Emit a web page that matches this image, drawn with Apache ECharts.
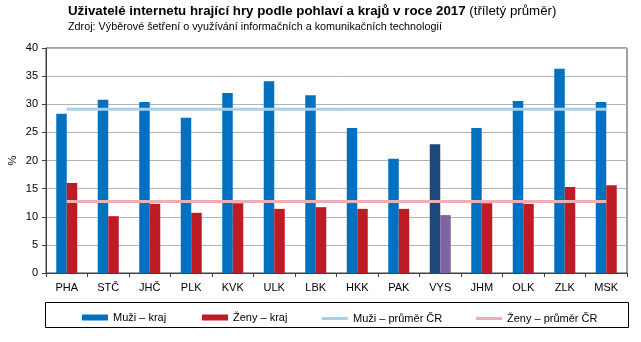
<!DOCTYPE html>
<html>
<head>
<meta charset="utf-8">
<script src="https://cdn.jsdelivr.net/npm/echarts@6/dist/echarts.min.js"></script>
<style>html,body{margin:0;padding:0;background:#fff}#c{width:641px;height:342px}</style>
</head>
<body>
<div id="c"></div>
<script>
const categories = ['PHA','STČ','JHČ','PLK','KVK','ULK','LBK','HKK','PAK','VYS','JHM','OLK','ZLK','MSK'];
const menValues = [28.3, 30.8, 30.4, 27.6, 32.0, 34.1, 31.6, 25.8, 20.3, 22.9, 25.8, 30.6, 36.3, 30.4];
const womenValues = [16.0, 10.1, 12.3, 10.7, 12.4, 11.4, 11.7, 11.4, 11.4, 10.3, 12.4, 12.3, 15.3, 15.6];
const menAverage = 29.1;
const womenAverage = 12.7;
const highlightCategory = 'VYS';
const yTicks = [0, 5, 10, 15, 20, 25, 30, 35, 40];

const FONT = '"Liberation Sans", Arial, sans-serif';
const C_MEN = '#0070c0', C_WOMEN = '#be1b24';
const C_MEN_HI = '#1f497d', C_WOMEN_HI = '#8064a2';
const C_MEN_AVG = '#a9cfea', C_WOMEN_AVG = '#ebb0b5';

const chart = echarts.init(document.getElementById('c'), null, {renderer: 'canvas'});

const menData = menValues.map((v, i) => categories[i] === highlightCategory ? {value: v, itemStyle: {color: C_MEN_HI}} : v);
const womenData = womenValues.map((v, i) => categories[i] === highlightCategory ? {value: v, itemStyle: {color: C_WOMEN_HI}} : v);

const legendBase = {top: 312, itemWidth: 26, itemHeight: 6, textStyle: {fontFamily: FONT, fontSize: 11, color: '#000'}, itemGap: 0, selectedMode: false, padding: 0};

chart.setOption({
  animation: false,
  textStyle: {fontFamily: FONT},
  title: {
    left: 68, top: 5, padding: 0,
    text: '{b|Uživatelé internetu hrající hry podle pohlaví a krajů v roce 2017}{n| (tříletý průměr)}',
    textStyle: {rich: {
      b: {fontFamily: FONT, fontSize: 13.3, fontWeight: 'bold', color: '#000'},
      n: {fontFamily: FONT, fontSize: 13.3, fontWeight: 'normal', color: '#000'}
    }},
    subtext: 'Zdroj: Výběrové šetření o využívání informačních a komunikačních technologií',
    subtextStyle: {fontFamily: FONT, fontSize: 10.8, color: '#000'},
    itemGap: 4
  },
  grid: {left: 46, right: 14, top: 48, bottom: 69, show: true, borderColor: '#404040', borderWidth: 1, outerBoundsMode: 'none', containLabel: false},
  legend: [
    Object.assign({}, legendBase, {left: 82, data: [{name: 'Muži – kraj', icon: 'rect'}]}),
    Object.assign({}, legendBase, {left: 202, data: [{name: 'Ženy – kraj', icon: 'rect'}]}),
    Object.assign({}, legendBase, {left: 322, itemHeight: 3, top: 313, data: [{name: 'Muži – průměr ČR', icon: 'rect'}]}),
    Object.assign({}, legendBase, {left: 476, itemHeight: 3, top: 313, data: [{name: 'Ženy – průměr ČR', icon: 'rect'}]})
  ],
  graphic: [{
    type: 'rect', shape: {x: 45.5, y: 302.5, width: 583, height: 25},
    style: {fill: 'none', stroke: '#000', lineWidth: 1}, silent: true
  }],
  xAxis: {
    type: 'category', data: categories, boundaryGap: true,
    axisLine: {lineStyle: {color: '#404040'}},
    axisTick: {show: true, length: 4, inside: false, lineStyle: {color: '#404040'}},
    axisLabel: {color: '#000', fontSize: 11, fontFamily: FONT, margin: 9}
  },
  yAxis: {
    type: 'value', min: yTicks[0], max: yTicks[yTicks.length - 1], interval: yTicks[1] - yTicks[0],
    name: '%', nameLocation: 'middle', nameGap: 28, nameRotate: 90, nameMoveOverlap: false,
    nameTextStyle: {color: '#000', fontSize: 11, fontFamily: FONT},
    axisLine: {show: true, lineStyle: {color: '#404040'}},
    axisTick: {show: true, length: 4, lineStyle: {color: '#404040'}},
    axisLabel: {color: '#000', fontSize: 11, fontFamily: FONT, margin: 8},
    splitLine: {show: true, lineStyle: {color: '#b4b4b4', width: 1}}
  },
  series: [
    {name: 'Muži – kraj', type: 'bar', data: menData, barWidth: 10.5, barGap: '0%', itemStyle: {color: C_MEN}},
    {name: 'Ženy – kraj', type: 'bar', data: womenData, barWidth: 10.5, barGap: '0%', itemStyle: {color: C_WOMEN}},
    {name: 'Muži – průměr ČR', type: 'line', data: categories.map(() => menAverage), symbol: 'none', lineStyle: {color: C_MEN_AVG, width: 3}, itemStyle: {color: C_MEN_AVG}, z: 3},
    {name: 'Ženy – průměr ČR', type: 'line', data: categories.map(() => womenAverage), symbol: 'none', lineStyle: {color: C_WOMEN_AVG, width: 3}, itemStyle: {color: C_WOMEN_AVG}, z: 3}
  ]
});
</script>
</body>
</html>
